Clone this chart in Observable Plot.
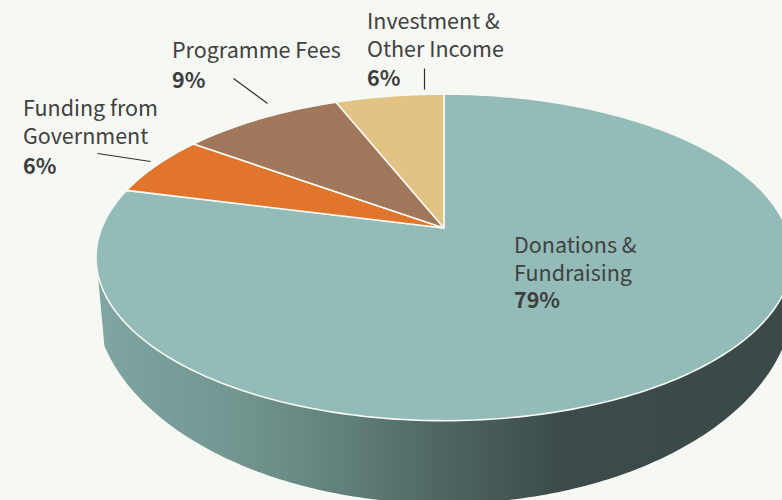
<!DOCTYPE html>
<html>
<head>
<meta charset="utf-8">
<style>
html,body{margin:0;padding:0;background:#f6f8f3;overflow:hidden}
svg{display:block}
</style>
<script src="https://cdn.jsdelivr.net/npm/d3@7"></script>
<script src="https://cdn.jsdelivr.net/npm/@observablehq/plot@0.6"></script>
</head>
<body>
<div id="chart"></div>
<script>
// Data, clockwise from twelve o'clock
const categories = ["Donations & Fundraising", "Funding from Government", "Programme Fees", "Investment & Other Income"];
const values = [79, 6, 9, 6];
const labelLines = ["Donations &\nFundraising", "Funding from\nGovernment", "Programme Fees", "Investment &\nOther Income"];
const sliceColors = ["#93bbb7", "#e0752b", "#a0775b", "#e2c384"];

// Label anchors and leader lines in chart units
const labelX = [513.5, 22.5, 171.5, 366.5];
const nameY = [233, 96, 38, 8.5];
const pctY = [292, 158, 72, 70];
const leaderX1 = [97, 233, 424];
const leaderY1 = [153, 78, 68];
const leaderX2 = [150, 267, 424];
const leaderY2 = [161, 103, 89];

// Perspective disc, bottom-edge ellipse
const cx = 443.5, cy = 227.5, A = 342.3, B = 158, p = 0.18;
const botY = 295, botA = 350, botB = 208;
const rad = d => d * Math.PI / 180;
const rim = deg => {
  const u = Math.sin(rad(deg)), v = Math.cos(rad(deg)), w = 1 + p * v;
  return [cx + A * u / w, cy - B * v / w];
};

// Slice outlines
const slicePts = [];
let acc = 0;
values.forEach((val, i) => {
  const a0 = acc / d3.sum(values) * 360;
  acc += val;
  const a1 = acc / d3.sum(values) * 360;
  const n = Math.ceil(a1 - a0);
  slicePts.push({name: categories[i], x: cx, y: cy});
  for (let k = 0; k <= n; k++) {
    const [x, y] = rim(a0 + (a1 - a0) * k / n);
    slicePts.push({name: categories[i], x, y});
  }
  slicePts.push({name: categories[i], x: cx, y: cy});
});

// Side wall outline: front rim, then the bottom edge back
const wallPts = [];
for (let d = 100; d <= 254; d++) {
  const [x, y] = rim(d);
  wallPts.push({x, y});
}
for (let d = 166; d >= 5; d--) {
  wallPts.push({x: cx + botA * Math.cos(rad(d)), y: botY + botB * Math.sin(rad(d))});
}

const labels = categories.map((c, i) => ({name: labelLines[i], pct: values[i] + "%", x: labelX[i], nameY: nameY[i], pctY: pctY[i]}));
const leaders = leaderX1.map((x1, i) => ({x1, y1: leaderY1[i], x2: leaderX2[i], y2: leaderY2[i]}));

const gradient = () => {
  const ns = "http://www.w3.org/2000/svg";
  const defs = document.createElementNS(ns, "defs");
  const g = document.createElementNS(ns, "linearGradient");
  g.setAttribute("id", "wallShade");
  g.setAttribute("gradientUnits", "userSpaceOnUse");
  g.setAttribute("x1", 96); g.setAttribute("x2", 782);
  g.setAttribute("y1", 0); g.setAttribute("y2", 0);
  [[0, "#7fa6a2"], [0.22, "#71948f"], [0.38, "#5f7d78"], [0.5, "#4e6662"], [0.68, "#3c4b49"], [1, "#3b4a48"]].forEach(([o, c]) => {
    const s = document.createElementNS(ns, "stop");
    s.setAttribute("offset", o);
    s.setAttribute("stop-color", c);
    g.appendChild(s);
  });
  defs.appendChild(g);
  return defs;
};

const font = "Noto Sans CJK SC";
const chart = Plot.plot({
  width: 782,
  height: 500,
  margin: 0,
  style: {background: "#f6f8f3", fontFamily: font},
  x: {domain: [0, 782], range: [0, 782], axis: null},
  y: {domain: [0, 500], range: [0, 500], axis: null},
  color: {domain: categories, range: sliceColors},
  marks: [
    gradient,
    Plot.line(wallPts, {x: "x", y: "y", fill: "url(#wallShade)", stroke: "none", curve: "linear"}),
    Plot.line(slicePts, {x: "x", y: "y", z: "name", fill: "name", stroke: "#f6f8f3", strokeWidth: 1.6, strokeLinejoin: "round", curve: "linear"}),
    Plot.link(leaders, {x1: "x1", y1: "y1", x2: "x2", y2: "y2", stroke: "#2f2f2f", strokeWidth: 1.2}),
    Plot.text(labels, {x: "x", y: "nameY", text: "name", textAnchor: "start", lineAnchor: "top", fontSize: 21.5, lineHeight: 28 / 21.5, fill: "#414141"}),
    Plot.text(labels, {x: "x", y: "pctY", text: "pct", textAnchor: "start", lineAnchor: "top", fontSize: 21.5, fontWeight: 700, fill: "#3d3d3d"})
  ]
});
document.getElementById("chart").appendChild(chart);
</script>
</body>
</html>
